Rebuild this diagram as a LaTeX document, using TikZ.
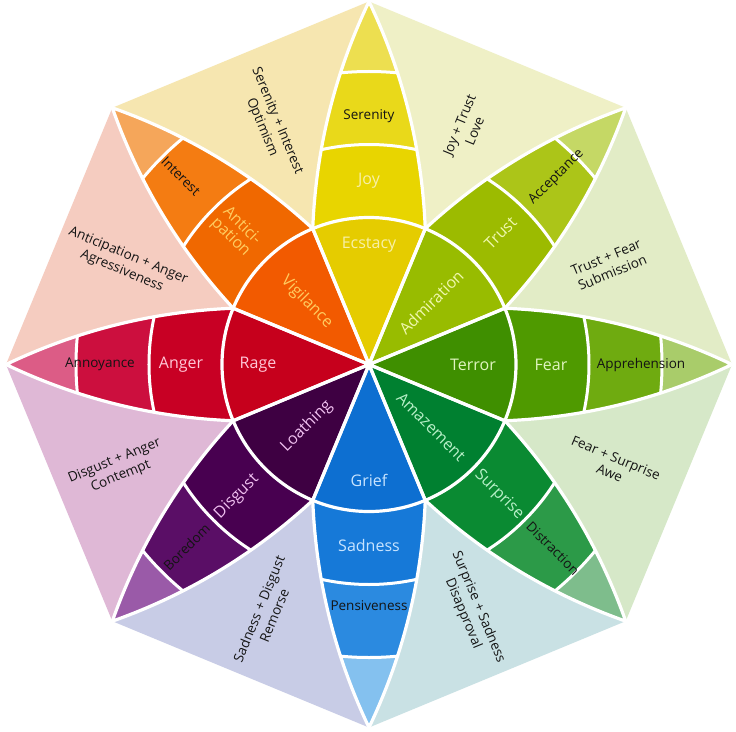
\documentclass[tikz,border=0pt]{standalone}
\usepackage{fontspec}
\setmainfont{Open Sans}
% petal colours: inner, middle, outer, tip, text
\definecolor{JoA}{HTML}{E5CC00}\definecolor{JoB}{HTML}{E8D500}\definecolor{JoC}{HTML}{E9D91A}\definecolor{JoD}{HTML}{EDDF50}\definecolor{JoT}{HTML}{F8F0A8}
\definecolor{TrA}{HTML}{98BC00}\definecolor{TrB}{HTML}{9CBB00}\definecolor{TrC}{HTML}{ACC518}\definecolor{TrD}{HTML}{C5D865}\definecolor{TrT}{HTML}{F0F8B0}
\definecolor{FeA}{HTML}{3F8F00}\definecolor{FeB}{HTML}{4F9A00}\definecolor{FeC}{HTML}{6FAB10}\definecolor{FeD}{HTML}{A9CC6A}\definecolor{FeT}{HTML}{E0F5C0}
\definecolor{SuA}{HTML}{008030}\definecolor{SuB}{HTML}{0A8A32}\definecolor{SuC}{HTML}{2C9A48}\definecolor{SuD}{HTML}{7EBD8C}\definecolor{SuT}{HTML}{B8F0C8}
\definecolor{SaA}{HTML}{0D6FD1}\definecolor{SaB}{HTML}{1679D8}\definecolor{SaC}{HTML}{2B8AE0}\definecolor{SaD}{HTML}{84C1EF}\definecolor{SaT}{HTML}{C8E4FF}
\definecolor{DiA}{HTML}{3E0042}\definecolor{DiB}{HTML}{480050}\definecolor{DiC}{HTML}{5A0E66}\definecolor{DiD}{HTML}{9A5AA8}\definecolor{DiT}{HTML}{F0C0F0}
\definecolor{AnA}{HTML}{C6001C}\definecolor{AnB}{HTML}{C80024}\definecolor{AnC}{HTML}{CC0F3E}\definecolor{AnD}{HTML}{DC5C86}\definecolor{AnT}{HTML}{FFC8D8}
\definecolor{AcA}{HTML}{F25A00}\definecolor{AcB}{HTML}{F06800}\definecolor{AcC}{HTML}{F47C12}\definecolor{AcD}{HTML}{F5A65A}\definecolor{AcT}{HTML}{FFCC60}
% regions between petals
\definecolor{RgLove}{HTML}{EFF0C6}
\definecolor{RgSub}{HTML}{E2ECC6}
\definecolor{RgAwe}{HTML}{D6E8C8}
\definecolor{RgDis}{HTML}{C9E1E4}
\definecolor{RgRem}{HTML}{C8CCE6}
\definecolor{RgCon}{HTML}{DFB8D6}
\definecolor{RgAgg}{HTML}{F5CCC0}
\definecolor{RgOpt}{HTML}{F6E6B0}
\definecolor{LabDark}{HTML}{141414}
\def\petal{(0,0) -- (135.81,56.25) .. controls (215.4,53.1) and (291.1,34.3) .. (363,0) .. controls (291.1,-34.3) and (215.4,-53.1) .. (135.81,-56.25) -- cycle}
\begin{document}
\begin{tikzpicture}[x=1pt,y=1pt,
  inlab/.style={font=\fontsize{16}{18}\selectfont, align=center, inner sep=1pt},
  outlab/.style={font=\fontsize{13.5}{15}\selectfont, text=LabDark, inner sep=1pt},
  reglab/.style={font=\fontsize{13.5}{16.5}\selectfont, text=LabDark, align=center, inner sep=1pt},
  whiteline/.style={draw=white, line width=3.2pt, line join=round}]
\useasboundingbox (-369,-366.5) rectangle (367,364.5);
\fill[white] (-369,-366.5) rectangle (367,364.5);
% octagon sectors
\foreach \a/\c in {0/RgSub,45/RgLove,90/RgOpt,135/RgAgg,180/RgCon,225/RgRem,270/RgDis,315/RgAwe}{
  \fill[\c] (0,0) -- (\a:363) -- (\a+45:363) -- cycle;
}
% petals
\foreach \a/\p in {90/Jo,45/Tr,0/Fe,-45/Su,-90/Sa,-135/Di,180/An,135/Ac}{
  \begin{scope}[rotate=\a]
    \begin{scope}
      \clip \petal;
      \fill[\p D] (0,0) circle (363pt);
      \fill[\p C] (0,0) circle (293pt);
      \fill[\p B] (0,0) circle (220pt);
      \fill[\p A] (0,0) circle (147pt);
      \draw[white, line width=3pt] (0,0) circle (220pt) (0,0) circle (293pt);
    \end{scope}
  \end{scope}
}
\foreach \a in {90,45,0,-45,-90,-135,180,135}{
  \begin{scope}[rotate=\a]
    \path[whiteline] \petal;
  \end{scope}
}
\draw[white, line width=3.2pt] (0,0) circle (147pt);
% inner labels
\node[inlab, text=JoT] (ecstacy) at (90:120) {Ecstacy};
\node[inlab, text=TrT, rotate=45] (admiration) at (45:88) {Admiration};
\node[inlab, text=FeT] (terror) at (0:104) {Terror};
\node[inlab, text=SuT, rotate=-45] (amazement) at (-45:88) {Amazement};
\node[inlab, text=SaT] (grief) at (-90:116) {Grief};
\node[inlab, text=DiT, rotate=45] (loathing) at (-135:88) {Loathing};
\node[inlab, text=AnT] (rage) at (180:111) {Rage};
\node[inlab, text=AcT, rotate=-45] (vigilance) at (135:88) {Vigilance};
% middle labels
\node[inlab, text=JoT] (joy) at (90:184) {Joy};
\node[inlab, text=TrT, rotate=45] (trust) at (45:186) {Trust};
\node[inlab, text=FeT] (fear) at (0:182) {Fear};
\node[inlab, text=SuT, rotate=-45] (surprise) at (-45:184) {Surprise};
\node[inlab, text=SaT] (sadness) at (-90:181) {Sadness};
\node[inlab, text=DiT, rotate=45] (disgust) at (-135:187) {Disgust};
\node[inlab, text=AnT] (anger) at (180:188) {Anger};
\node[inlab, text=AcT, rotate=-45, font=\fontsize{16}{16}\selectfont] (anticipation) at (135:188) {Antici-\\pation};
% outer labels
\node[outlab] (serenity) at (90:248) {Serenity};
\node[outlab, rotate=45] (acceptance) at (45:265) {Acceptance};
\node[outlab] (apprehension) at (0:272) {Apprehension};
\node[outlab, rotate=-45] (distraction) at (-45:260) {Distraction};
\node[outlab] (pensiveness) at (-90:241) {Pensiveness};
\node[outlab, rotate=45] (boredom) at (-135:258) {Boredom};
\node[outlab] (annoyance) at (180:269) {Annoyance};
\node[outlab, rotate=-45] (interest) at (135:266) {Interest};
% dyad labels
\node[reglab, rotate=67.5] (love) at (67.5:256) {Joy + Trust\\Love};
\node[reglab, rotate=22.5] (submission) at (22.5:260) {Trust + Fear\\Submission};
\node[reglab, rotate=-22.5] (awe) at (-22.5:264) {Fear + Surprise\\Awe};
\node[reglab, rotate=-67.5] (disapproval) at (-67.5:266) {Surprise + Sadness\\Disapproval};
\node[reglab, rotate=67.5] (remorse) at (-112.5:268) {Sadness + Disgust\\Remorse};
\node[reglab, rotate=22.5] (contempt) at (-157.5:272) {Disgust + Anger\\Contempt};
\node[reglab, rotate=-22.5] (aggressiveness) at (157.5:264) {Anticipation + Anger\\Agressiveness};
\node[reglab, rotate=-67.5] (optimism) at (112.5:260) {Serenity + Interest\\Optimism};
\end{tikzpicture}
\end{document}
